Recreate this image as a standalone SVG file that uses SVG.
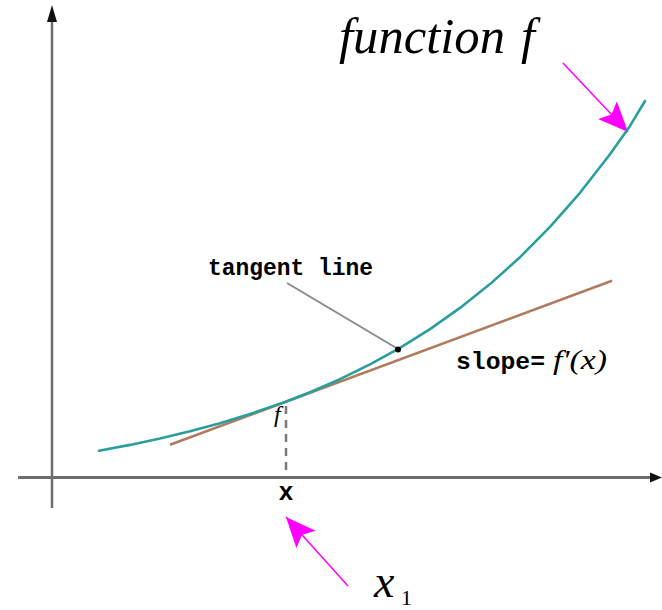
<svg xmlns="http://www.w3.org/2000/svg" width="662" height="610" viewBox="0 0 662 610">
<style>
.axis{stroke:#6e6e6e;fill:none}
.curve{stroke:#2a9e9c;stroke-width:2.6;fill:none;stroke-linejoin:round;stroke-linecap:round}
.tan{stroke:#b07c5f;stroke-width:2.6;fill:none}
.lead{stroke:#8a8a8a;stroke-width:2;fill:none}
.mag{stroke:#ff00ff;stroke-width:1.5;fill:none}
.mono{font-family:"Liberation Mono","DejaVu Sans Mono",monospace;font-weight:bold;fill:#000}
.it{font-family:"Liberation Serif","Times New Roman",serif;font-style:italic;fill:#000}
</style>
<defs>
<marker id="magArrow" markerUnits="userSpaceOnUse" markerWidth="32" markerHeight="26" refX="30" refY="13" orient="auto">
<path d="M0,0 L30,13 L0,26 L6,13 Z" fill="#ff00ff"/>
</marker>
</defs>
<g id="axes">
<line class="axis" x1="52" y1="14" x2="52" y2="508" stroke-width="2.5"/>
<path d="M52,5 L47,22 L57,22 Z" fill="#111"/>
<line class="axis" x1="18" y1="477.5" x2="654" y2="477.5" stroke-width="3"/>
<path d="M662,477.5 L650,472.5 L650,482.5 Z" fill="#111"/>
</g>
<g id="connectors">
<line class="lead" x1="287" y1="283" x2="398" y2="349"/>
<line x1="286" y1="406" x2="286" y2="476" stroke="#7a7a7a" stroke-width="2.5" stroke-dasharray="8,6"/>
<line class="mag" x1="563" y1="63" x2="628" y2="132" marker-end="url(#magArrow)"/>
<line class="mag" x1="348" y1="586" x2="286" y2="517" marker-end="url(#magArrow)"/>
</g>
<g id="tangent">
<line class="tan" x1="170" y1="444.7" x2="612" y2="280.7"/>
</g>
<g id="function-curve">
<path class="curve" d="M99,450.7 L130,444.9 L160,438.5 L190,431.3 L220,423.2 L250,414.1 L285,402 L310,392.2 L340,379.2 L370,364.4 L400,347.8 L430,329.1 L460,307.9 L490,284.1 L520,257.2 L550,226.9 L580,192.8 L610,154.3 L630,125.9 L645,101"/>
</g>
<g id="tangent-point">
<circle cx="398" cy="349.5" r="3" fill="#000"/>
</g>
<g id="labels">
<text class="it" x="339" y="53" font-size="50" textLength="166" lengthAdjust="spacingAndGlyphs">function</text>
<text class="it" x="521" y="53" font-size="50">f</text>
<text class="mono" x="208" y="275" font-size="23" textLength="165" lengthAdjust="spacingAndGlyphs">tangent line</text>
<text class="mono" x="456" y="369" font-size="24" textLength="89" lengthAdjust="spacingAndGlyphs">slope=</text>
<text class="it" x="553" y="369" font-size="28" textLength="54" lengthAdjust="spacingAndGlyphs">f'(x)</text>
<text class="it" x="274" y="422" font-size="24">f</text>
<text class="mono" x="286" y="500" font-size="25" text-anchor="middle">x</text>
<text class="it" x="374" y="597" font-size="46">x</text>
<text x="401" y="605" font-size="22" font-family="Liberation Serif, serif" fill="#000">1</text>
</g>
</svg>
